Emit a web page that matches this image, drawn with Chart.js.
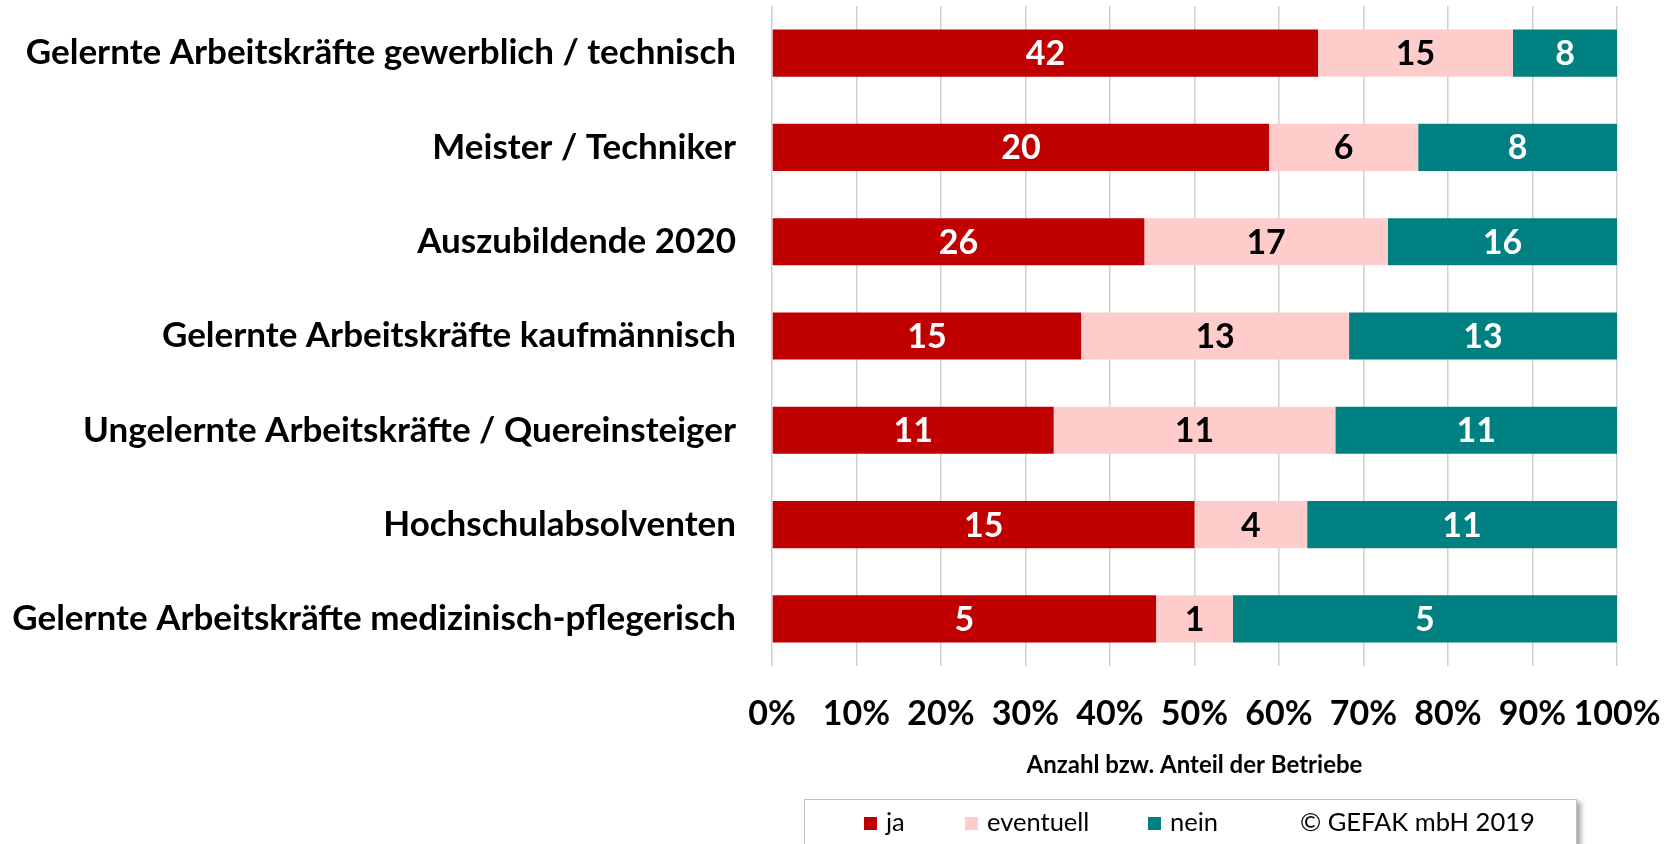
<!DOCTYPE html>
<html>
<head>
<meta charset="utf-8">
<script src="https://cdn.jsdelivr.net/npm/chart.js@4.4.1/dist/chart.umd.min.js"></script>
<style>
  body { margin: 0; background: #fff; }
  #wrap { position: relative; width: 1665px; height: 844px; overflow: hidden; }
  #legend {
    position: absolute; left: 804px; top: 799px; width: 771px; height: 70px;
    border: 1px solid #BFBFBF; background: #fff;
    box-shadow: 4px 3px 5px rgba(0,0,0,0.35);
    font-family: Lato, 'Open Sans', sans-serif; font-size: 25.5px; color: #000;
  }
  #legend .item { position: absolute; top: 7px; white-space: nowrap; line-height: 28px; }
  #legend .box { display: inline-block; width: 13px; height: 13px; margin-right: 9px; vertical-align: 1px; }
</style>
</head>
<body>
<div id="wrap">
  <canvas id="myChart" width="1665" height="844"></canvas>
  <div id="legend"></div>
</div>
<script>
const categories = [
  'Gelernte Arbeitskräfte gewerblich / technisch',
  'Meister / Techniker',
  'Auszubildende 2020',
  'Gelernte Arbeitskräfte kaufmännisch',
  'Ungelernte Arbeitskräfte / Quereinsteiger',
  'Hochschulabsolventen',
  'Gelernte Arbeitskräfte medizinisch-pflegerisch'
];
const jaCounts = [42, 20, 26, 15, 11, 15, 5];
const eventuellCounts = [15, 6, 17, 13, 11, 4, 1];
const neinCounts = [8, 8, 16, 13, 11, 11, 5];
const tickLabels = ['0%', '10%', '20%', '30%', '40%', '50%', '60%', '70%', '80%', '90%', '100%'];
const seriesNames = ['ja', 'eventuell', 'nein'];
const copyright = '© GEFAK mbH 2019';

const FONT = "Lato, 'Open Sans', sans-serif";
const colors = ['#C00000', '#FFCCCC', '#008080'];
const labelColors = ['#FFFFFF', '#000000', '#FFFFFF'];

const totals = jaCounts.map((v, i) => v + eventuellCounts[i] + neinCounts[i]);
const pct = arr => arr.map((v, i) => v / totals[i] * 100);
const counts = [jaCounts, eventuellCounts, neinCounts];

// labels inside the bar segments
const barLabels = {
  id: 'barLabels',
  afterDatasetsDraw(chart) {
    const ctx = chart.ctx;
    ctx.save();
    ctx.font = 'bold 34px ' + FONT;
    ctx.textAlign = 'center';
    ctx.textBaseline = 'middle';
    chart.data.datasets.forEach((ds, di) => {
      const meta = chart.getDatasetMeta(di);
      meta.data.forEach((el, i) => {
        const c = el.getCenterPoint();
        ctx.fillStyle = labelColors[di];
        ctx.fillText(String(counts[di][i]), c.x, c.y + 1);
      });
    });
    ctx.restore();
  }
};

const ctx = document.getElementById('myChart');
new Chart(ctx.getContext('2d'), {
  type: 'bar',
  data: {
    labels: categories,
    datasets: seriesNames.map((name, di) => ({
      label: name,
      data: pct(counts[di]),
      backgroundColor: colors[di],
      borderWidth: 0,
      barPercentage: 0.5,
      categoryPercentage: 1
    }))
  },
  options: {
    indexAxis: 'y',
    responsive: false,
    animation: false,
    layout: { padding: { top: 6, right: 48, bottom: 54, left: 0 } },
    plugins: { legend: { display: false }, tooltip: { enabled: false } },
    scales: {
      x: {
        stacked: true, min: 0, max: 100,
        afterFit: s => { s.height = 124; s.paddingLeft = 0; s.paddingRight = 0; },
        afterBuildTicks: s => { s.ticks = tickLabels.map((t, i) => ({ value: i * 10 })); },
        grid: { color: '#D0D0D0', lineWidth: 1.5, drawTicks: false },
        border: { display: false },
        ticks: {
          padding: 28, color: '#000',
          font: { family: FONT, size: 34, weight: 'bold' },
          callback: (v, i) => tickLabels[i],
          maxRotation: 0, autoSkip: false
        },
        title: {
          display: true, text: 'Anzahl bzw. Anteil der Betriebe', color: '#000',
          font: { family: FONT, size: 24, weight: 'bold' },
          padding: { top: 0, bottom: 10 }
        }
      },
      y: {
        stacked: true,
        afterFit: s => { s.width = 772; s.paddingTop = 0; s.paddingBottom = 0; },
        grid: { display: false },
        border: { display: false },
        ticks: {
          padding: 28, color: '#000',
          font: { family: FONT, size: 35, weight: 'bold' }
        }
      }
    }
  },
  plugins: [barLabels]
});

// legend box under the chart
const legend = document.getElementById('legend');
const itemLefts = [59, 160, 343];
seriesNames.forEach((name, i) => {
  const d = document.createElement('div');
  d.className = 'item';
  d.style.left = itemLefts[i] + 'px';
  d.innerHTML = '<span class="box" style="background:' + colors[i] + '"></span>' + name;
  legend.appendChild(d);
});
const c = document.createElement('div');
c.className = 'item';
c.style.left = '495px';
c.textContent = copyright;
legend.appendChild(c);
</script>
</body>
</html>
